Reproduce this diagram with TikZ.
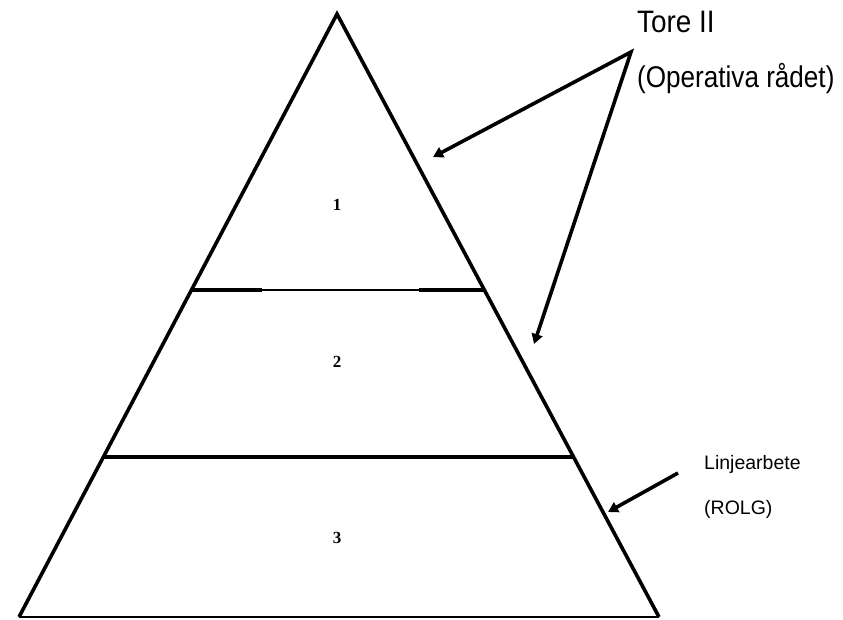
\documentclass[tikz,border=0pt]{standalone}
\usepackage{fontspec}
\usepackage{graphicx}
\setmainfont{Liberation Sans}
\newfontfamily\numfont{Liberation Serif}
\usetikzlibrary{arrows.meta}
\tikzset{
  side/.style={line width=3.6pt, line join=miter},
  thickbar/.style={line width=3.6pt},
  thinbar/.style={line width=1.6pt},
  arr/.style={line width=3.6pt, -{Triangle[length=10pt,width=11pt]}},
  twoarr/.style={line width=3.6pt, line join=miter, {Triangle[length=10pt,width=11pt]}-{Triangle[length=10pt,width=11pt]}},
  num/.style={font=\numfont\bfseries\fontsize{17}{19}\selectfont, inner sep=0pt},
  lbl/.style={anchor=base west, inner sep=0pt},
}
\begin{document}
\begin{tikzpicture}[x=1pt,y=-1pt]
\useasboundingbox (0,0) rectangle (843,619);
% pyramid corners
\coordinate (apex) at (337,14);
\coordinate (bl) at (19,617);
\coordinate (br) at (659,617);
\draw[side] (bl) -- (apex) -- (br);
\draw[thinbar] (bl) -- (br);
% level lines
\coordinate (l1a) at (191.5,290);
\coordinate (l1b) at (262,290);
\coordinate (l1c) at (419,290);
\coordinate (l1d) at (484,290);
\draw[thickbar] (l1a) -- (l1b);
\draw[thinbar] (l1b) -- (l1c);
\draw[thickbar] (l1c) -- (l1d);
\coordinate (l2a) at (103,457);
\coordinate (l2b) at (573,457);
\draw[thickbar] (l2a) -- (l2b);
% numbers
\node[num] (n1) at (337,205) {1};
\node[num] (n2) at (337,362) {2};
\node[num] (n3) at (337,538) {3};
% labels
\node[lbl, font=\fontsize{31}{33}\selectfont] (tore) at (637,32) {\scalebox{0.9}[1]{Tore II}};
\node[lbl, font=\fontsize{30}{32}\selectfont] (oper) at (637,87) {\scalebox{0.87}[1]{(Operativa rådet)}};
\node[lbl, font=\fontsize{19.5}{22}\selectfont] (linj) at (704,469) {Linjearbete};
\node[lbl, font=\fontsize{19.5}{22}\selectfont] (rolg) at (704,514) {(ROLG)};
% arrows
\coordinate (hub) at (631,52);
\coordinate (t1) at (433,157);
\coordinate (t2) at (534,344);
\coordinate (tail3) at (678,473);
\coordinate (t3) at (608,512);
\draw[twoarr] (t1) -- (hub) -- (t2);
\draw[arr] (tail3) -- (t3);
\end{tikzpicture}
\end{document}
